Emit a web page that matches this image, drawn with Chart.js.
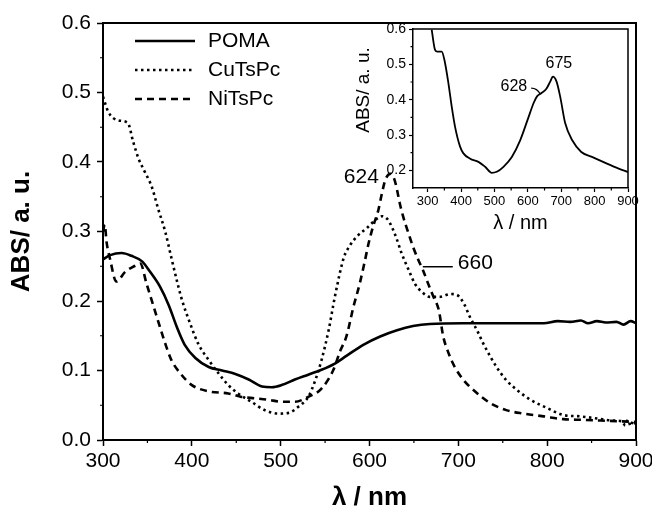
<!DOCTYPE html>
<html>
<head>
<meta charset="utf-8">
<script src="https://cdn.jsdelivr.net/npm/chart.js@4.4.0/dist/chart.umd.min.js"></script>
<style>
  html, body { margin: 0; padding: 0; background: #fff; }
  #wrap { position: relative; width: 652px; height: 511px; }
  #main { position: absolute; left: 0; top: 0; }
  #inset { position: absolute; left: 345px; top: 20px; }
</style>
</head>
<body>
<div id="wrap">
  <canvas id="main" width="652" height="511"></canvas>
  <canvas id="inset" width="300" height="220"></canvas>
</div>
<script>
// UV-vis spectra of the films (wavelength in nm, absorbance in a.u.)
const pomaNm = [300, 308, 321, 332, 344, 353, 364, 374, 383, 392, 404, 419, 434, 449, 464, 479, 490, 501, 516, 531,
  546, 561, 574, 593, 612, 631, 649, 668, 706, 743, 796, 812, 826, 838, 846, 856, 866, 878, 886, 894, 900];
const pomaAbs = [0.260, 0.266, 0.269, 0.265, 0.257, 0.242, 0.221, 0.194, 0.163, 0.137, 0.118, 0.105, 0.100, 0.095, 0.087, 0.077, 0.076, 0.079, 0.087, 0.094,
  0.101, 0.110, 0.121, 0.137, 0.149, 0.158, 0.164, 0.167, 0.168, 0.168, 0.168, 0.171, 0.170, 0.172, 0.168, 0.171, 0.169, 0.170, 0.166, 0.171, 0.168];

const cuNm = [300, 306, 317, 328, 334, 340, 347, 355, 362, 370, 377, 384, 389, 398, 407, 419, 430, 441, 452, 467,
  482, 497, 509, 520, 531, 539, 546, 554, 561, 571, 578, 586, 597, 608, 614, 620, 625, 631, 636, 644,
  651, 659, 668, 679, 691, 698, 706, 713, 721, 728, 736, 743, 754, 766, 781, 800, 818, 837, 856, 874,
  884, 888, 891, 894, 897, 900];
const cuAbs = [0.494, 0.472, 0.460, 0.456, 0.429, 0.405, 0.386, 0.364, 0.333, 0.300, 0.262, 0.225, 0.201, 0.168, 0.139, 0.115, 0.096, 0.079, 0.067, 0.055,
  0.043, 0.038, 0.039, 0.048, 0.062, 0.086, 0.115, 0.158, 0.206, 0.262, 0.280, 0.293, 0.305, 0.318, 0.322, 0.318, 0.307, 0.288, 0.269, 0.245,
  0.225, 0.213, 0.206, 0.206, 0.210, 0.209, 0.197, 0.177, 0.158, 0.139, 0.120, 0.105, 0.086, 0.072, 0.058, 0.046, 0.036, 0.034, 0.031, 0.028,
  0.027, 0.021, 0.029, 0.020, 0.028, 0.022];

const niNm = [300, 302, 304, 308, 315, 325, 335, 342, 349, 357, 364, 370, 377, 387, 400, 419, 441, 456, 471, 486,
  501, 516, 531, 546, 559, 567, 574, 582, 589, 595, 599, 604, 610, 614, 618, 624, 628, 631, 634, 638,
  644, 649, 655, 660, 666, 672, 678, 683, 689, 696, 706, 717, 736, 754, 773, 796, 818, 840, 860, 880, 900];
const niAbs = [0.300, 0.310, 0.285, 0.260, 0.228, 0.242, 0.250, 0.254, 0.225, 0.192, 0.163, 0.139, 0.115, 0.096, 0.079, 0.070, 0.067, 0.062, 0.060, 0.058,
  0.055, 0.055, 0.062, 0.074, 0.100, 0.128, 0.149, 0.192, 0.225, 0.259, 0.283, 0.307, 0.331, 0.355, 0.375, 0.383, 0.375, 0.360, 0.341, 0.321,
  0.297, 0.278, 0.259, 0.245, 0.225, 0.206, 0.187, 0.149, 0.125, 0.105, 0.086, 0.072, 0.053, 0.043, 0.038, 0.034, 0.030, 0.029, 0.028, 0.027, 0.026];

// inset spectrum
const insetNm = [312, 322, 329, 342, 350, 362, 372, 382, 397, 407, 427, 452, 472, 492, 507, 527, 552, 577, 600, 618,
  628, 640, 655, 667, 675, 686, 697, 712, 733, 760, 792, 837, 872, 900];
const insetAbs = [0.598, 0.541, 0.536, 0.536, 0.513, 0.447, 0.380, 0.323, 0.267, 0.248, 0.233, 0.224, 0.210, 0.193, 0.196, 0.210, 0.238, 0.285, 0.345, 0.392,
  0.410, 0.418, 0.430, 0.451, 0.465, 0.451, 0.408, 0.333, 0.285, 0.252, 0.238, 0.219, 0.205, 0.195];

const seriesNames = ['POMA', 'CuTsPc', 'NiTsPc'];

const xTicks = [300, 400, 500, 600, 700, 800, 900];
const xMinor = [350, 450, 550, 650, 750, 850];
const yTicks = [0, 0.1, 0.2, 0.3, 0.4, 0.5, 0.6];
const yMinor = [0.05, 0.15, 0.25, 0.35, 0.45, 0.55];

const insetXTicks = [300, 400, 500, 600, 700, 800, 900];
const insetXMinor = [350, 450, 550, 650, 750, 850];
const insetYTicks = [0.2, 0.3, 0.4, 0.5, 0.6];
const insetYMinor = [0.25, 0.35, 0.45, 0.55];

// band positions marked on the curves
const niMarks = [624, 660];
const insetMarks = [628, 675];

const FONT = '"Liberation Sans", Arial, sans-serif';
Chart.defaults.font.family = FONT;
Chart.defaults.color = '#000';

const pts = (xs, ys) => xs.map((v, i) => ({ x: v, y: ys[i] }));
const valueAt = (xs, ys, v) => ys[xs.indexOf(v)];

// closing the box and drawing the short minor ticks
function framePlugin(xm, ym, len, width) {
  return {
    id: 'frame',
    afterDraw(chart) {
      const { ctx, chartArea: a, scales: { x, y } } = chart;
      ctx.save();
      ctx.strokeStyle = '#000';
      ctx.lineWidth = width;
      ctx.beginPath();
      ctx.moveTo(a.left, a.top);
      ctx.lineTo(a.right, a.top);
      ctx.lineTo(a.right, a.bottom);
      ctx.stroke();
      ctx.lineWidth = 1.2;
      ctx.beginPath();
      xm.forEach(v => {
        const px = x.getPixelForValue(v);
        ctx.moveTo(px, a.bottom);
        ctx.lineTo(px, a.bottom + len);
      });
      ym.forEach(v => {
        const py = y.getPixelForValue(v);
        ctx.moveTo(a.left, py);
        ctx.lineTo(a.left - len, py);
      });
      ctx.stroke();
      ctx.restore();
    }
  };
}

const lineStyles = [
  { dash: [], width: 2.6 },
  { dash: [2.5, 3.5], width: 2.6 },
  { dash: [7, 5], width: 2.6 }
];

const mainChart = new Chart(document.getElementById('main'), {
  type: 'line',
  data: {
    datasets: [
      { label: seriesNames[0], data: pts(pomaNm, pomaAbs) },
      { label: seriesNames[1], data: pts(cuNm, cuAbs) },
      { label: seriesNames[2], data: pts(niNm, niAbs) }
    ].map((d, i) => Object.assign(d, {
      borderColor: '#000',
      borderWidth: lineStyles[i].width,
      borderDash: lineStyles[i].dash,
      pointRadius: 0,
      fill: false,
      cubicInterpolationMode: 'monotone'
    }))
  },
  options: {
    responsive: false,
    animation: false,
    devicePixelRatio: 1,
    layout: { padding: { top: 23, right: 16, left: 0, bottom: 0 } },
    plugins: { legend: { display: false }, tooltip: { enabled: false } },
    scales: {
      x: {
        type: 'linear', min: 300, max: 900,
        afterBuildTicks: s => { s.ticks = xTicks.map(v => ({ value: v })); },
        afterFit: s => { s.height = 71; s.paddingLeft = 0; s.paddingRight = 0; },
        grid: { drawOnChartArea: false, tickLength: 6, tickWidth: 1.5, tickColor: '#000' },
        border: { color: '#000', width: 2 },
        ticks: { font: { size: 21 }, padding: 3, maxRotation: 0 },
        title: { display: true, text: 'λ / nm', font: { size: 26, weight: 'bold', lineHeight: 1 }, padding: 0 }
      },
      y: {
        type: 'linear', min: 0, max: 0.6,
        afterBuildTicks: s => { s.ticks = yTicks.map(v => ({ value: v })); },
        afterFit: s => { s.width = 103; s.paddingTop = 0; s.paddingBottom = 0; },
        grid: { drawOnChartArea: false, tickLength: 6, tickWidth: 1.5, tickColor: '#000' },
        border: { color: '#000', width: 2 },
        ticks: { font: { size: 21 }, padding: 6, callback: v => Number(v).toFixed(1) },
        title: { display: true, text: 'ABS/ a. u.', font: { size: 26, weight: 'bold', lineHeight: 1 }, padding: 9 }
      }
    }
  },
  plugins: [
    framePlugin(xMinor, yMinor, 3, 2),
    {
      id: 'keyAndBands',
      afterDatasetsDraw(chart) {
        const { ctx, scales: { x, y } } = chart;
        ctx.save();
        ctx.fillStyle = '#000';
        ctx.strokeStyle = '#000';
        ctx.font = '21px ' + FONT;
        ctx.textBaseline = 'middle';

        // line key in the upper left corner
        chart.data.datasets.forEach((d, i) => {
          const ry = 41 + i * 29;
          ctx.lineWidth = d.borderWidth;
          ctx.setLineDash(d.borderDash);
          ctx.beginPath();
          ctx.moveTo(135, ry);
          ctx.lineTo(195, ry);
          ctx.stroke();
          ctx.setLineDash([]);
          ctx.textAlign = 'left';
          ctx.fillText(d.label, 208, ry);
        });

        // NiTsPc band maximum and shoulder
        const [peak, shoulder] = niMarks;
        let px = x.getPixelForValue(peak);
        let py = y.getPixelForValue(valueAt(niNm, niAbs, peak));
        ctx.textAlign = 'right';
        ctx.fillText(String(peak), px - 12, py + 3);

        px = x.getPixelForValue(shoulder);
        py = y.getPixelForValue(valueAt(niNm, niAbs, shoulder));
        ctx.lineWidth = 1.5;
        ctx.beginPath();
        ctx.moveTo(px, py - 3);
        ctx.lineTo(px + 30, py - 3);
        ctx.stroke();
        ctx.textAlign = 'left';
        ctx.fillText(String(shoulder), px + 35, py - 7);
        ctx.restore();
      }
    }
  ]
});

const insetChart = new Chart(document.getElementById('inset'), {
  type: 'line',
  data: {
    datasets: [{
      data: pts(insetNm, insetAbs),
      borderColor: '#000',
      borderWidth: 1.8,
      pointRadius: 0,
      fill: false,
      cubicInterpolationMode: 'monotone'
    }]
  },
  options: {
    responsive: false,
    animation: false,
    devicePixelRatio: 1,
    layout: { padding: { top: 9, right: 17, left: 0, bottom: 0 } },
    plugins: { legend: { display: false }, tooltip: { enabled: false } },
    scales: {
      x: {
        type: 'linear', min: 256, max: 900,
        afterBuildTicks: s => { s.ticks = insetXTicks.map(v => ({ value: v })); },
        afterFit: s => { s.height = 52; s.paddingLeft = 0; s.paddingRight = 0; },
        grid: { drawOnChartArea: false, tickLength: 4, tickWidth: 1.2, tickColor: '#000' },
        border: { color: '#000', width: 1.5 },
        ticks: { font: { size: 13 }, padding: 2, maxRotation: 0 },
        title: { display: true, text: 'λ / nm', font: { size: 20, lineHeight: 1 }, padding: 7 }
      },
      y: {
        type: 'linear', min: 0.15, max: 0.6,
        afterBuildTicks: s => { s.ticks = insetYTicks.map(v => ({ value: v })); },
        afterFit: s => { s.width = 68; s.paddingTop = 0; s.paddingBottom = 0; },
        grid: { drawOnChartArea: false, tickLength: 4, tickWidth: 1.2, tickColor: '#000' },
        border: { color: '#000', width: 1.5 },
        ticks: { font: { size: 14 }, padding: 3, callback: v => Number(v).toFixed(1) },
        title: { display: false }
      }
    }
  },
  plugins: [
    framePlugin(insetXMinor, insetYMinor, 2.5, 1.5),
    {
      id: 'insetBands',
      afterDatasetsDraw(chart) {
        const { ctx, scales: { x, y } } = chart;
        const [shoulder, peak] = insetMarks;
        ctx.save();
        ctx.fillStyle = '#000';
        ctx.strokeStyle = '#000';
        ctx.textBaseline = 'middle';

        // axis name sits higher than the middle of the axis
        ctx.save();
        ctx.font = '19px ' + FONT;
        ctx.textAlign = 'center';
        ctx.translate(18.5, 70);
        ctx.rotate(-Math.PI / 2);
        ctx.fillText('ABS/ a. u.', 0, 0);
        ctx.restore();

        ctx.font = '16px ' + FONT;
        let px = x.getPixelForValue(peak);
        let py = y.getPixelForValue(valueAt(insetNm, insetAbs, peak));
        ctx.textAlign = 'center';
        ctx.fillText(String(peak), px + 6, py - 13);

        px = x.getPixelForValue(shoulder);
        py = y.getPixelForValue(valueAt(insetNm, insetAbs, shoulder));
        ctx.textAlign = 'right';
        ctx.fillText(String(shoulder), px - 10, py - 10);
        ctx.lineWidth = 1.2;
        ctx.beginPath();
        ctx.moveTo(px - 6, py - 8);
        ctx.quadraticCurveTo(px, py - 8, px + 3, py - 2);
        ctx.stroke();
        ctx.restore();
      }
    }
  ]
});
</script>
</body>
</html>
